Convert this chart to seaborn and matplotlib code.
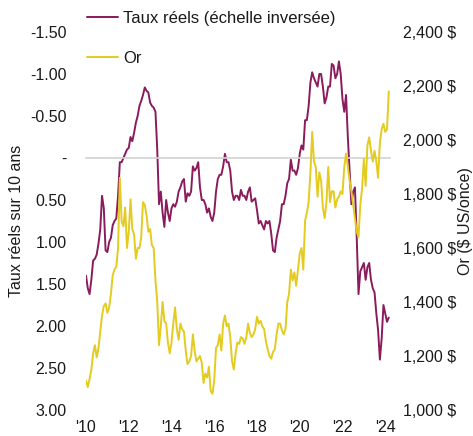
import numpy as np
import pandas as pd
import seaborn as sns
import matplotlib
matplotlib.use("Agg")
import matplotlib.pyplot as plt

# ========================
# Données (valeurs mensuelles)
# ========================
mois = pd.date_range("2010-01-01", "2024-03-01", freq="MS")

# taux réels 10 ans (%)
taux_reels = [
    1.40, 1.55, 1.62, 1.45, 1.22, 1.20, 1.15, 1.02, 0.85, 0.45, 0.60, 1.10,   # 2010
    1.12, 1.00, 0.95, 0.80, 0.75, 0.72, 0.45, 0.05, 0.05, 0.00, -0.05, -0.10,  # 2011
    -0.12, -0.25, -0.20, -0.30, -0.42, -0.50, -0.62, -0.68, -0.75, -0.84, -0.80, -0.78,  # 2012
    -0.66, -0.62, -0.60, -0.55, -0.10, 0.55, 0.40, 0.65, 0.82, 0.50, 0.65, 0.75,  # 2013
    0.60, 0.55, 0.58, 0.52, 0.40, 0.35, 0.28, 0.25, 0.52, 0.42, 0.45, 0.40,   # 2014
    0.10, 0.15, 0.12, 0.05, 0.35, 0.50, 0.50, 0.55, 0.65, 0.60, 0.70, 0.75,   # 2015
    0.65, 0.40, 0.25, 0.20, 0.20, 0.10, -0.05, 0.05, 0.05, 0.15, 0.40, 0.50,  # 2016
    0.45, 0.45, 0.50, 0.38, 0.45, 0.45, 0.50, 0.40, 0.35, 0.52, 0.50, 0.48,   # 2017
    0.62, 0.78, 0.75, 0.80, 0.85, 0.75, 0.78, 0.75, 0.90, 1.10, 1.12, 0.95,   # 2018
    0.85, 0.75, 0.55, 0.55, 0.45, 0.30, 0.25, 0.02, 0.15, 0.15, 0.20, 0.12,   # 2019
    -0.05, -0.15, -0.10, -0.45, -0.45, -0.62, -0.90, -1.02, -0.95, -0.90, -0.85, -1.00,  # 2020
    -1.00, -0.85, -0.65, -0.72, -0.85, -0.85, -1.12, -1.10, -0.95, -1.00, -1.15, -1.00,  # 2021
    -0.70, -0.55, -0.75, -0.25, 0.15, 0.55, 0.40, 0.35, 0.95, 1.62, 1.35, 1.30,   # 2022
    1.25, 1.45, 1.30, 1.25, 1.45, 1.55, 1.60, 1.85, 2.05, 2.40, 2.15, 1.75,   # 2023
    1.85, 1.95, 1.90,                                                        # 2024
]

# or ($ US/once)
or_prix = [
    1110, 1085, 1115, 1150, 1210, 1240, 1195, 1230, 1290, 1350, 1385, 1395,   # 2010
    1360, 1380, 1430, 1500, 1520, 1530, 1600, 1860, 1700, 1680, 1750, 1600,   # 2011
    1660, 1780, 1670, 1650, 1560, 1600, 1600, 1640, 1770, 1760, 1720, 1660,   # 2012
    1670, 1610, 1600, 1480, 1400, 1240, 1310, 1400, 1330, 1320, 1250, 1210,   # 2013
    1250, 1320, 1380, 1300, 1260, 1320, 1300, 1290, 1220, 1170, 1180, 1200,   # 2014
    1280, 1220, 1180, 1190, 1200, 1175, 1100, 1135, 1120, 1160, 1070, 1060,   # 2015
    1110, 1230, 1240, 1280, 1220, 1320, 1350, 1310, 1320, 1270, 1180, 1150,   # 2016
    1210, 1250, 1245, 1270, 1265, 1245, 1270, 1320, 1285, 1270, 1280, 1300,   # 2017
    1345, 1320, 1330, 1310, 1300, 1255, 1225, 1200, 1190, 1215, 1225, 1280,   # 2018
    1320, 1320, 1295, 1280, 1300, 1400, 1430, 1520, 1480, 1510, 1460, 1520,   # 2019
    1580, 1600, 1520, 1700, 1730, 1770, 1880, 2030, 1920, 1900, 1790, 1880,   # 2020
    1850, 1750, 1710, 1770, 1900, 1770, 1810, 1810, 1750, 1780, 1790, 1810,  # 2021
    1800, 1900, 1950, 1900, 1850, 1810, 1760, 1710, 1660, 1640, 1760, 1820,   # 2022
    1930, 1830, 1980, 2010, 1960, 1920, 1960, 1920, 1860, 1990, 2040, 2060,   # 2023
    2030, 2040, 2180,                                                        # 2024
]

annees_ticks = [2010, 2012, 2014, 2016, 2018, 2020, 2022, 2024]
annees_labels = ["'10", "'12", "'14", "'16", "'18", "'20", "'22", "'24"]
taux_ticks = [-1.5, -1.0, -0.5, 0.0, 0.5, 1.0, 1.5, 2.0, 2.5, 3.0]
taux_labels = ["-1.50", "-1.00", "-0.50", "-", "0.50", "1.00", "1.50", "2.00", "2.50", "3.00"]
or_ticks = [1000, 1200, 1400, 1600, 1800, 2000, 2200, 2400]
or_labels = ["1,000 $", "1,200 $", "1,400 $", "1,600 $", "1,800 $", "2,000 $", "2,200 $", "2,400 $"]

df = pd.DataFrame({
    "annee": mois.year + (mois.month - 1) / 12.0,
    "taux": taux_reels,
    "or": or_prix,
})

# ========================
# Style
# ========================
sns.set_style("white")
plt.rcParams['font.family'] = ['Liberation Sans', 'DejaVu Sans']
texte = "#1a1a1a"
violet = "#8a1b5c"
jaune = "#e3cb1f"
gris = "#d2d2d2"
fs = 11.5

fig = plt.figure(figsize=(4.73, 4.36), dpi=100)
ax = fig.add_axes([86 / 473, 1 - 410 / 436, (389.5 - 86) / 473, (410 - 32) / 436])
ax2 = ax.twinx()

sns.lineplot(data=df, x="annee", y="taux", ax=ax, color=violet, linewidth=1.4,
             label="Taux réels (échelle inversée)", legend=False)
sns.lineplot(data=df, x="annee", y="or", ax=ax2, color=jaune, linewidth=1.4,
             label="Or", legend=False)

ax.set_xlim(2010, 2024.2)
ax.set_ylim(3.0, -1.5)
ax2.set_ylim(1000, 2400)

for s in ax.spines.values():
    s.set_visible(False)
for s in ax2.spines.values():
    s.set_visible(False)

# ligne du zéro avec petites graduations
ax.spines['bottom'].set_visible(True)
ax.spines['bottom'].set_position(('data', 0))
ax.spines['bottom'].set_color(gris)
ax.spines['bottom'].set_linewidth(1.2)
ax.set_xticks(annees_ticks)
ax.tick_params(axis='x', direction='in', length=3, width=1, color=gris, labelbottom=False)

sec = ax.secondary_xaxis('bottom')
sec.set_xticks(annees_ticks, labels=annees_labels)
sec.tick_params(length=0, pad=7.5, labelsize=fs, labelcolor=texte)
sec.spines['bottom'].set_visible(False)

ax.set_yticks(taux_ticks, labels=taux_labels)
ax.tick_params(axis='y', length=0, pad=14, labelsize=fs, labelcolor=texte)
ax.set_ylabel("Taux réels sur 10 ans", fontsize=fs, color=texte, labelpad=4.5)
ax.set_xlabel("")

ax2.set_yticks(or_ticks, labels=or_labels)
ax2.tick_params(axis='y', length=0, pad=10, labelsize=fs, labelcolor=texte)
ax2.set_ylabel("Or ($ US/once)", fontsize=fs, color=texte, labelpad=1)

h1, l1 = ax.get_legend_handles_labels()
h2, l2 = ax2.get_legend_handles_labels()
fig.legend(h1 + h2, l1 + l2, loc='upper left', bbox_to_anchor=(87 / 473, 1 - 11 / 436),
           frameon=False, fontsize=12, labelspacing=1.5, handlelength=1.85,
           handletextpad=0.3, borderpad=0, borderaxespad=0, labelcolor=texte)

fig.savefig("out.png", dpi=100, facecolor="white")
